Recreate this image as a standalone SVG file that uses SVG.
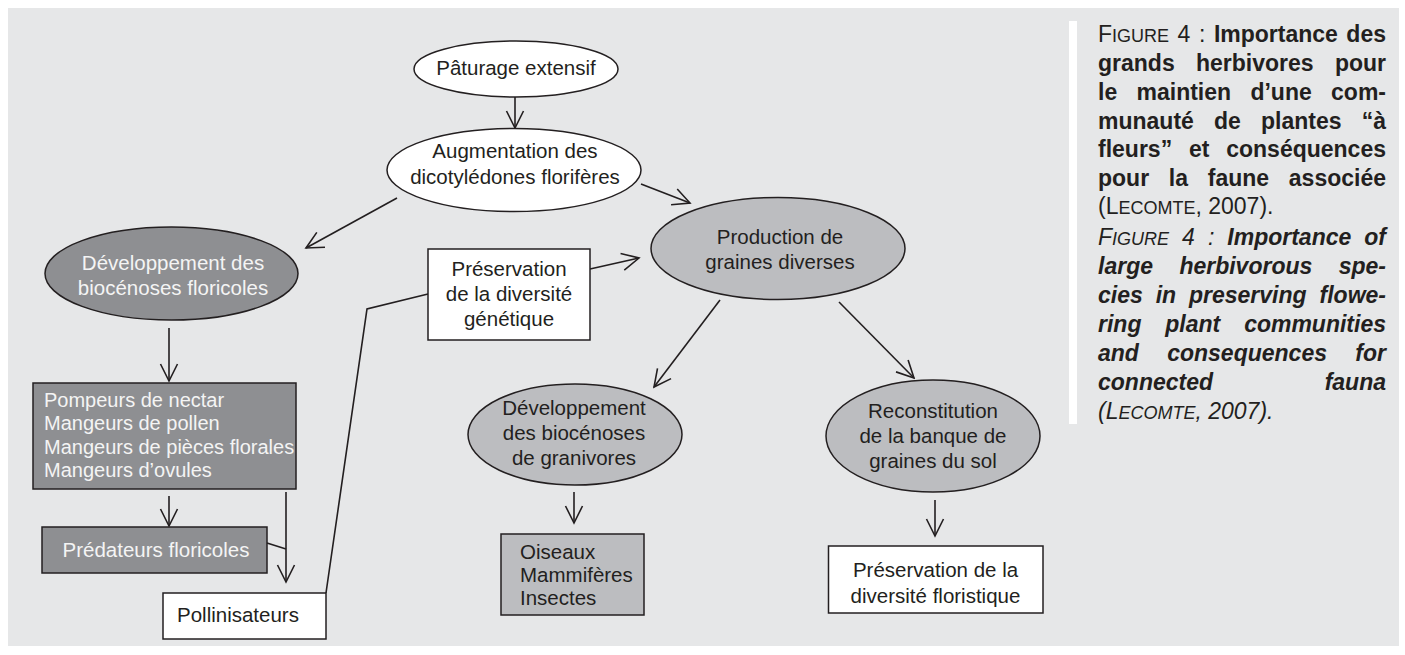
<svg xmlns="http://www.w3.org/2000/svg" width="1405" height="655" viewBox="0 0 1405 655">
<style>
text{font-family:"Liberation Sans",Arial,sans-serif;fill:#231f20}
.t{font-size:20.5px;text-anchor:middle}
.tl{font-size:20.5px}
.tb{font-size:20px}
.w{fill:#f4f4f4}
.node{stroke:#231f20;stroke-width:1.5}
.white{fill:#ffffff}
.dark{fill:#8e8f92}
.light{fill:#bcbdc0}
.con{fill:none;stroke:#231f20;stroke-width:1.6}
.cap{font-size:23px}
.b{font-weight:bold}
.i{font-style:italic}
.sc{font-size:18px}
.e{text-anchor:end}
</style>
<defs>
<marker id="arr" markerUnits="userSpaceOnUse" viewBox="0 0 20 20" markerWidth="20" markerHeight="20" refX="18" refY="10" orient="auto">
<path d="M1,1.5 L18,10 L1,18.5" fill="none" stroke="#231f20" stroke-width="1.6"/>
</marker>
</defs>
<rect x="8" y="8" width="1391" height="638" fill="#e6e7e8"/>
<rect x="1069" y="21" width="8" height="403" fill="#ffffff"/>

<g id="connectors">
<line class="con" x1="515" y1="97" x2="515" y2="128" marker-end="url(#arr)"/>
<line class="con" x1="397" y1="198" x2="306" y2="248" marker-end="url(#arr)"/>
<line class="con" x1="641" y1="184" x2="690" y2="203" marker-end="url(#arr)"/>
<line class="con" x1="590" y1="269" x2="639" y2="258" marker-end="url(#arr)"/>
<polyline class="con" points="428,294 367,309 326,593"/>
<line class="con" x1="169" y1="328" x2="169" y2="381" marker-end="url(#arr)"/>
<line class="con" x1="169" y1="496" x2="169" y2="526" marker-end="url(#arr)"/>
<line class="con" x1="286" y1="492" x2="286" y2="582" marker-end="url(#arr)"/>
<line class="con" x1="267" y1="543" x2="286" y2="549"/>
<line class="con" x1="720" y1="300" x2="654" y2="387" marker-end="url(#arr)"/>
<line class="con" x1="574" y1="492" x2="574" y2="523" marker-end="url(#arr)"/>
<line class="con" x1="839" y1="302" x2="914" y2="378" marker-end="url(#arr)"/>
<line class="con" x1="935" y1="500" x2="935" y2="536" marker-end="url(#arr)"/>
</g>

<g id="paturage">
<ellipse class="node white" cx="516" cy="69" rx="102" ry="28"/>
<text class="t" x="516" y="75">Pâturage extensif</text>
</g>
<g id="augmentation">
<ellipse class="node white" cx="514" cy="170" rx="127" ry="41.5"/>
<text class="t" x="515" y="158">Augmentation des</text>
<text class="t" x="515" y="184">dicotylédones florifères</text>
</g>
<g id="dev-floricoles">
<ellipse class="node dark" cx="171.5" cy="273.5" rx="126.5" ry="46.5"/>
<text class="t w" x="173" y="270">Développement des</text>
<text class="t w" x="173" y="295">biocénoses floricoles</text>
</g>
<g id="production">
<ellipse class="node light" cx="778" cy="248.5" rx="127" ry="51"/>
<text class="t" x="780" y="244">Production de</text>
<text class="t" x="780" y="269">graines diverses</text>
</g>
<g id="pres-genetique">
<rect class="node white" x="428" y="249" width="162" height="91"/>
<text class="t" x="509" y="276">Préservation</text>
<text class="t" x="509" y="301">de la diversité</text>
<text class="t" x="509" y="326">génétique</text>
</g>
<g id="consommateurs">
<rect class="node dark" x="33" y="383" width="263" height="106"/>
<text class="tb w" x="44" y="407">Pompeurs de nectar</text>
<text class="tb w" x="44" y="430">Mangeurs de pollen</text>
<text class="tb w" x="44" y="454">Mangeurs de pièces florales</text>
<text class="tb w" x="44" y="477">Mangeurs d’ovules</text>
</g>
<g id="predateurs">
<rect class="node dark" x="42" y="527" width="225" height="46"/>
<text class="t w" x="156" y="557">Prédateurs floricoles</text>
</g>
<g id="pollinisateurs">
<rect class="node white" x="163" y="593" width="163" height="46"/>
<text class="tl" x="177" y="622">Pollinisateurs</text>
</g>
<g id="dev-granivores">
<ellipse class="node light" cx="575" cy="434.5" rx="107" ry="50.5"/>
<text class="t" x="574" y="415">Développement</text>
<text class="t" x="574" y="440">des biocénoses</text>
<text class="t" x="574" y="465">de granivores</text>
</g>
<g id="faune">
<rect class="node light" x="501" y="534" width="143" height="81"/>
<text class="tl" x="520" y="559">Oiseaux</text>
<text class="tl" x="520" y="582">Mammifères</text>
<text class="tl" x="520" y="605">Insectes</text>
</g>
<g id="reconstitution">
<ellipse class="node light" cx="933" cy="436" rx="107" ry="56"/>
<text class="t" x="933" y="418">Reconstitution</text>
<text class="t" x="933" y="443">de la banque de</text>
<text class="t" x="933" y="468">graines du sol</text>
</g>
<g id="pres-floristique">
<rect class="node white" x="828.5" y="546" width="214.5" height="67"/>
<text class="t" x="935.5" y="577">Préservation de la</text>
<text class="t" x="935.5" y="603">diversité floristique</text>
</g>

<g id="caption" class="cap">
<text x="1098" y="42">F<tspan class="sc">IGURE</tspan></text>
<text x="1177.6" y="42">4</text>
<text x="1198.9" y="42">:</text>
<text class="b" x="1213.9" y="42">Importance</text>
<text class="b e" x="1386" y="42">des</text>

<text class="b" x="1098" y="71">grands</text>
<text class="b" x="1196" y="71">herbivores</text>
<text class="b e" x="1386" y="71">pour</text>

<text class="b" x="1098" y="100">le</text>
<text class="b" x="1136.5" y="100">maintien</text>
<text class="b" x="1250.4" y="100">d’une</text>
<text class="b e" x="1386" y="100">com-</text>

<text class="b" x="1098" y="129">munauté</text>
<text class="b" x="1214" y="129">de</text>
<text class="b" x="1261" y="129">plantes</text>
<text class="b e" x="1386" y="129">“à</text>

<text class="b" x="1098" y="157">fleurs”</text>
<text class="b" x="1188.9" y="157">et</text>
<text class="b e" x="1386" y="157">conséquences</text>

<text class="b" x="1098" y="186">pour</text>
<text class="b" x="1168.8" y="186">la</text>
<text class="b" x="1207.8" y="186">faune</text>
<text class="b e" x="1386" y="186">associée</text>

<text x="1098" y="214">(L<tspan class="sc">ECOMTE</tspan>, 2007).</text>

<text class="i" x="1098" y="245">F<tspan class="sc">IGURE</tspan></text>
<text class="i" x="1182.1" y="245">4</text>
<text class="i" x="1207.9" y="245">:</text>
<text class="b i" x="1227.3" y="245">Importance</text>
<text class="b i e" x="1386" y="245">of</text>

<text class="b i" x="1098" y="274">large</text>
<text class="b i" x="1179.4" y="274">herbivorous</text>
<text class="b i e" x="1386" y="274">spe-</text>

<text class="b i" x="1098" y="303">cies</text>
<text class="b i" x="1155.7" y="303">in</text>
<text class="b i" x="1189" y="303">preserving</text>
<text class="b i e" x="1386" y="303">flowe-</text>

<text class="b i" x="1098" y="332">ring</text>
<text class="b i" x="1165.3" y="332">plant</text>
<text class="b i e" x="1386" y="332">communities</text>

<text class="b i" x="1098" y="361">and</text>
<text class="b i" x="1167.2" y="361">consequences</text>
<text class="b i e" x="1386" y="361">for</text>

<text class="b i" x="1098" y="390">connected</text>
<text class="b i e" x="1386" y="390">fauna</text>

<text class="i" x="1098" y="419">(L<tspan class="sc">ECOMTE</tspan>, 2007).</text>
</g>
</svg>
